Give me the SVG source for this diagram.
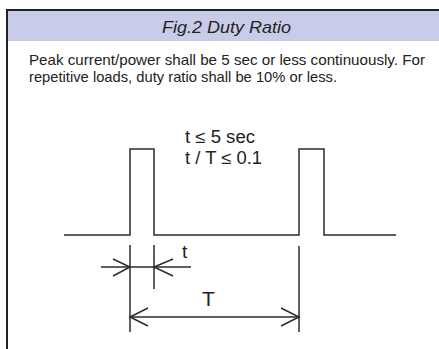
<svg xmlns="http://www.w3.org/2000/svg" width="439" height="349" viewBox="0 0 439 349">
<style>
.ln{stroke:#2b2b2b;stroke-width:1.5;fill:none}
.txt{font-family:"Liberation Sans",Arial,sans-serif;fill:#222}
</style>
<rect x="0" y="0" width="439" height="349" fill="#fff"/>
<g id="frame">
<rect x="7" y="11" width="432" height="30" fill="#c9cce8"/>
<line x1="6" y1="10" x2="439" y2="10" stroke="#222" stroke-width="2"/>
<line x1="7" y1="9" x2="7" y2="349" stroke="#222" stroke-width="2"/>
<text class="txt" x="162" y="33" font-size="17" font-style="italic" textLength="129" lengthAdjust="spacingAndGlyphs">Fig.2 Duty Ratio</text>
<text class="txt" x="29" y="65" font-size="15" textLength="396" lengthAdjust="spacingAndGlyphs">Peak current/power shall be 5 sec or less continuously. For</text>
<text class="txt" x="29" y="82" font-size="15" textLength="308" lengthAdjust="spacingAndGlyphs">repetitive loads, duty ratio shall be 10% or less.</text>
</g>
<g id="waveform">
<path class="ln" d="M64,235 H130 V149 H154 V235 H299 V149 H324 V235 H396"/>
</g>
<g id="formula">
<text class="txt" x="185" y="143" font-size="17.5" textLength="70" lengthAdjust="spacingAndGlyphs">t ≤ 5 sec</text>
<text class="txt" x="185" y="164" font-size="17.5" textLength="77" lengthAdjust="spacingAndGlyphs">t / T ≤ 0.1</text>
</g>
<g id="connectors">
<line class="ln" x1="130" y1="245" x2="130" y2="332"/>
<line class="ln" x1="154" y1="245" x2="154" y2="289"/>
<line class="ln" x1="299" y1="246" x2="299" y2="332"/>
<line class="ln" x1="101" y1="267" x2="191" y2="267"/>
<path class="ln" d="M113,259 L130,267 L113,276"/>
<path class="ln" d="M173,259 L154,267 L173,276"/>
<line class="ln" x1="130" y1="317" x2="299" y2="317"/>
<path class="ln" d="M148,308 L130,317 L148,326"/>
<path class="ln" d="M281,308 L299,317 L281,326"/>
</g>
<g id="labels">
<text class="txt" x="182" y="258" font-size="19">t</text>
<text class="txt" x="202" y="306" font-size="21">T</text>
</g>
</svg>
